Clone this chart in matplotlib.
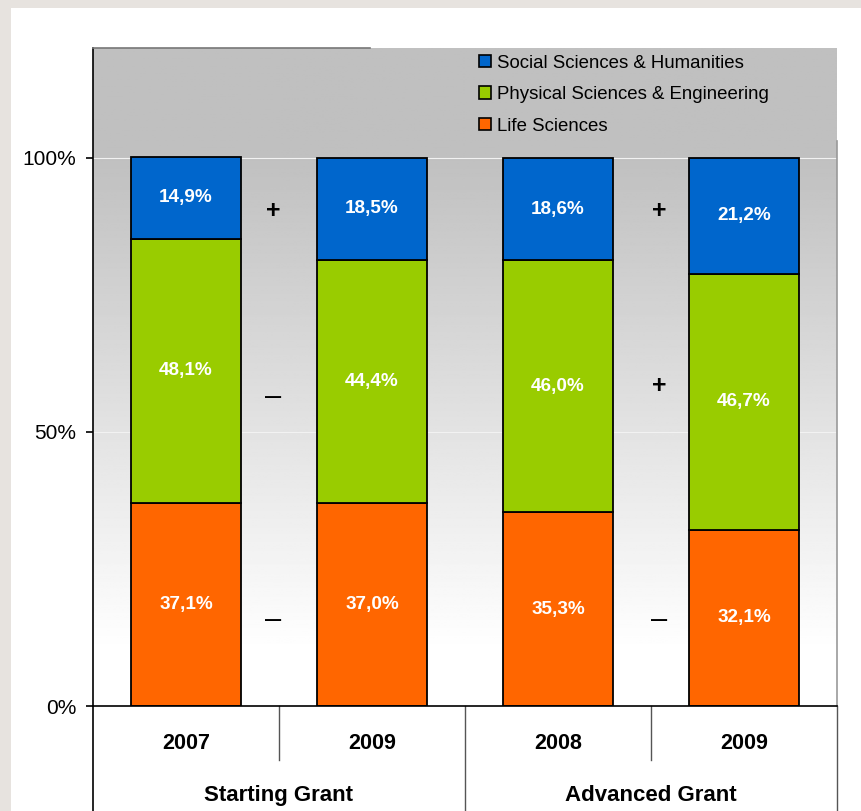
import numpy as np
import matplotlib
matplotlib.use("Agg")
import matplotlib.pyplot as plt
from matplotlib.patches import Patch

plt.rcParams['font.family'] = ['Liberation Sans', 'DejaVu Sans']

############################################ Data ######################################################################
years = ["2007", "2009", "2008", "2009"]
groups = ["Starting Grant", "Advanced Grant"]
life = [37.1, 37.0, 35.3, 32.1]
physical = [48.1, 44.4, 46.0, 46.7]
social = [14.9, 18.5, 18.6, 21.2]
# change signs between the two years of each grant (social, physical, life)
signs_sg = ["+", "\u2013", "\u2013"]
signs_ag = ["+", "+", "\u2013"]

C_LIFE = "#ff6600"
C_PHYS = "#99cc00"
C_SOC = "#0066cc"

############################################ Figure ####################################################################
fig = plt.figure(figsize=(8.61, 8.11), dpi=100)
fig.patch.set_facecolor("#e7e3df")
# white panel
fig.patches.append(plt.Rectangle((11 / 861, 0), 1, 1 - 8 / 811, transform=fig.transFigure,
                                 facecolor="white", edgecolor="none", zorder=-10))

ax = fig.add_axes([93 / 861, 1 - 706 / 811, 744 / 861, 658 / 811])
ax.set_xlim(-0.5, 3.5)
ax.set_ylim(0, 1.2)
ax.patch.set_alpha(0)

# background gradient: flat gray at top, fading to white near the bottom
yy = np.linspace(0, 1.2, 400)
g = np.clip((yy - 0.10) / 0.90, 0, 1)
gray = 1.0 - g * (1.0 - 192 / 255)
img = np.repeat(gray[:, None], 2, axis=1)
ax.imshow(img, extent=[-0.5, 3.5, 0, 1.2], origin="lower", aspect="auto",
          cmap="gray", vmin=0, vmax=1, zorder=0)

for gy in [0.5, 1.0]:
    ax.axhline(gy, color="#f2f2f2", lw=0.8, zorder=1)

x = np.arange(len(years))
life_f = np.array(life) / 100
phys_f = np.array(physical) / 100
soc_f = np.array(social) / 100
w = 0.59
kw = dict(width=w, edgecolor="black", linewidth=1.3, zorder=3)
ax.bar(x, life_f, color=C_LIFE, **kw)
ax.bar(x, phys_f, bottom=life_f, color=C_PHYS, **kw)
ax.bar(x, soc_f, bottom=life_f + phys_f, color=C_SOC, **kw)

def fmt(v):
    return ("%.1f%%" % v).replace(".", ",")

lbl = dict(ha="center", va="center", color="white", fontsize=13.6, fontweight="bold", zorder=4)
for i in range(len(years)):
    ax.text(x[i], life_f[i] / 2, fmt(life[i]), **lbl)
    ax.text(x[i], life_f[i] + phys_f[i] / 2, fmt(physical[i]), **lbl)
    ax.text(x[i], life_f[i] + phys_f[i] + soc_f[i] / 2, fmt(social[i]), **lbl)

# signs between years
sign_y = [0.903, 0.564, 0.157]
sign_y_ag = [0.903, 0.584, 0.157]

def put_sign(xs, ys, s):
    if s == "+":
        ax.text(xs, ys, s, ha="center", va="center", fontsize=18, fontweight="bold", zorder=4)
    else:
        ax.text(xs, ys, s, ha="center", va="center", fontsize=21, zorder=4)

for s, sy in zip(signs_sg, sign_y):
    put_sign(0.468, sy, s)
for s, sy in zip(signs_ag, sign_y_ag):
    put_sign(2.543, sy, s)

############################################ Axes styling ##############################################################
for sp in ["top", "right", "bottom"]:
    ax.spines[sp].set_visible(False)
ax.spines["left"].set_linewidth(1.2)
ax.set_yticks([0, 0.5, 1.0])
ax.set_yticklabels(["0%", "50%", "100%"], fontsize=15)
ax.tick_params(axis="y", length=5, width=1.2, pad=7)
ax.set_xticks([])

# partial top border and right border
ax.plot([-0.5, 0.99], [1.2, 1.2], color="#777777", lw=1.2, clip_on=False, zorder=5)
ax.plot([3.5, 3.5], [0, 1.03], color="#999999", lw=1.2, clip_on=False, zorder=5)
# left spine continues down through the category area
ax.plot([-0.5, -0.5], [0, -0.195], color="black", lw=1.2, clip_on=False, zorder=5)

# category axis below the plot
ax.axhline(0, color="black", lw=1.2, zorder=5, clip_on=False)
for xs in [0.5, 2.5]:
    ax.plot([xs, xs], [0, -0.0985], color="#555555", lw=1.0, clip_on=False)
for xs in [1.5, 3.5]:
    ax.plot([xs, xs], [0, -0.195], color="#555555", lw=1.0, clip_on=False)

for i, yl in enumerate(years):
    ax.text(x[i], -0.0675, yl, ha="center", va="center", fontsize=15.5, fontweight="bold")
for j, gl in enumerate(groups):
    ax.text(0.5 + 2 * j, -0.1624, gl, ha="center", va="center", fontsize=16, fontweight="bold")

############################################ Legend ####################################################################
handles = [Patch(facecolor=C_SOC, edgecolor="black", linewidth=1.2),
           Patch(facecolor=C_PHYS, edgecolor="black", linewidth=1.2),
           Patch(facecolor=C_LIFE, edgecolor="black", linewidth=1.2)]
labels = ["Social Sciences & Humanities", "Physical Sciences & Engineering", "Life Sciences"]
ax.legend(handles, labels, loc="upper left", bbox_to_anchor=(0.512, 0.997), frameon=False,
          fontsize=13.4, handlelength=0.65, handleheight=0.65, handletextpad=0.35,
          labelspacing=0.78, borderpad=0.25, borderaxespad=0)

plt.savefig("out.png", dpi=100, facecolor=fig.get_facecolor())
plt.close()
